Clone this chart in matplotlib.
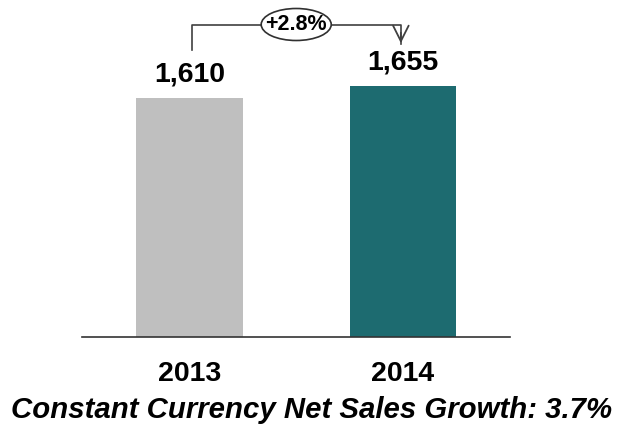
import numpy as np
from matplotlib import pyplot as plt
from matplotlib.patches import Ellipse

years = ['2013', '2014']
net_sales = [1610, 1655]
growth_label = '+2.8%'
footer = 'Constant Currency Net Sales Growth: 3.7%'
bar_colors = ['#bfbfbf', '#1d6b70']

plt.rcParams['font.family'] = ['Liberation Sans', 'DejaVu Sans']

fig = plt.figure(figsize=(6.23, 4.28), dpi=100)
# axes spans x 82..510 px, y bottom at 337 px (from top) up to the figure top
ax = fig.add_axes([82 / 623, 91 / 428, 428 / 623, 337 / 428])

x = np.arange(len(years))
ax.bar(x, net_sales, width=0.5, color=bar_colors)

y_bottom = 714
px = (net_sales[1] - y_bottom) / 251.0
ax.set_ylim(y_bottom, net_sales[1] + 86 * px)
ax.set_xlim(-0.503, 1.501)

for xi, v in zip(x, net_sales):
    ax.text(xi, v + 11 * px, f'{v:,}', ha='center', va='bottom',
            fontsize=20.5, fontweight='bold')

# growth bracket between the two bars
y_top = net_sales[1] + 61 * px
x_left = x[0] + 0.01
x_right = x[1] - 0.01
ax.plot([x_left, x_left, x_right, x_right],
        [net_sales[0] + 48 * px, y_top, y_top, net_sales[1] + 42 * px],
        color='#404040', linewidth=1.2, clip_on=False)
ax.annotate('', xy=(x_right, net_sales[1] + 40 * px),
            xytext=(x_right, net_sales[1] + 56 * px),
            arrowprops=dict(arrowstyle='->', color='#404040', lw=1.3,
                            mutation_scale=28),
            annotation_clip=False)
x_mid = (x[0] + x[1]) / 2
ax.add_patch(Ellipse((x_mid, y_top + 0.5 * px), width=70 / 213.5,
                     height=32 * px, facecolor='white', edgecolor='#303030',
                     linewidth=1.2, clip_on=False, zorder=3))
ax.text(x_mid, y_top + 0.5 * px, growth_label, ha='center', va='center',
        fontsize=15.5, fontweight='bold', zorder=4)

for s in ['top', 'right', 'left']:
    ax.spines[s].set_visible(False)
ax.spines['bottom'].set_color('#333333')
ax.spines['bottom'].set_linewidth(1.2)
ax.set_yticks([])
ax.set_xticks(x)
ax.set_xticklabels(years, fontsize=20.5, fontweight='bold')
ax.tick_params(axis='x', length=0, pad=17)

fig.text(0.5, 1 - 410 / 428, footer, ha='center', va='center',
         fontsize=21.2, fontweight='bold', fontstyle='italic')

plt.savefig('out.png', dpi=100)
